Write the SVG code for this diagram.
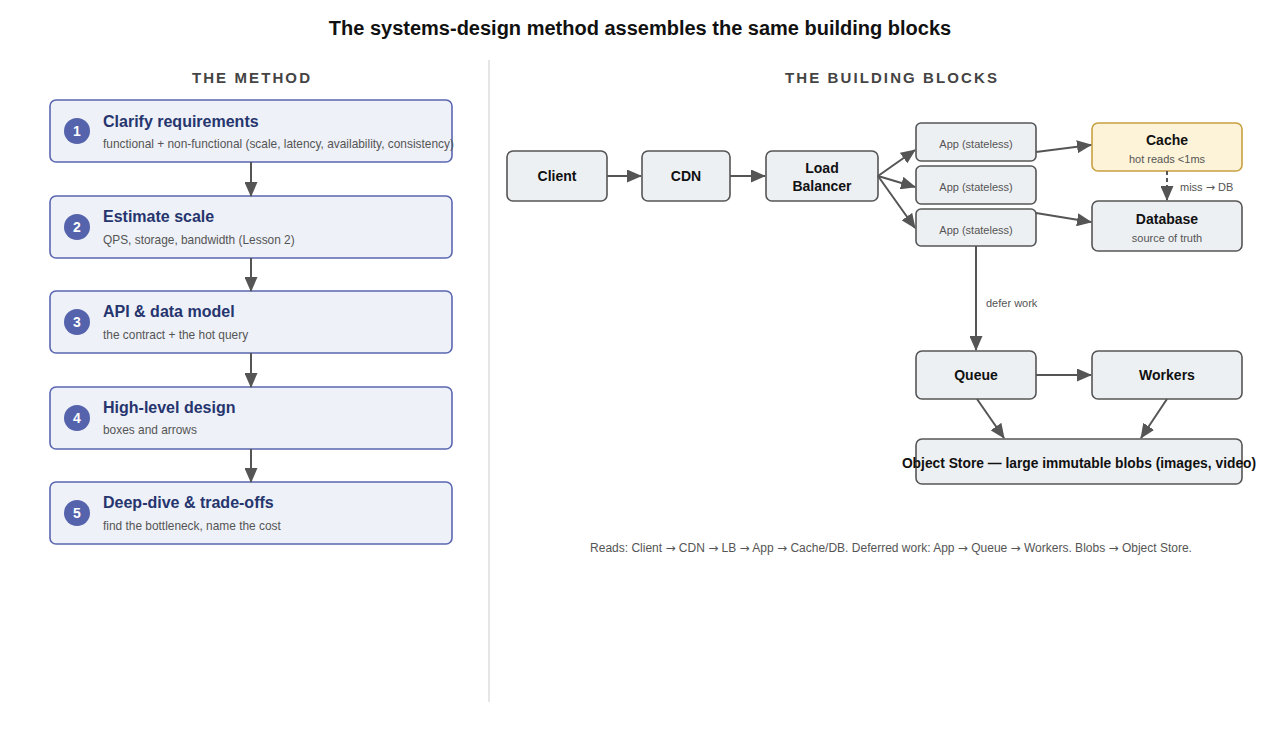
<svg xmlns="http://www.w3.org/2000/svg" width="1280" height="753" viewBox="0 0 1280 753">
<defs>
<marker id="ah" markerUnits="userSpaceOnUse" markerWidth="15" markerHeight="13" refX="14" refY="6.5" orient="auto">
<path d="M0,0 L15,6.5 L0,13 Z" fill="#555"/>
</marker>
<style>
text{font-family:"Liberation Sans",Arial,sans-serif}
.title{font-size:20px;font-weight:bold;fill:#111}
.hdr{font-size:15px;font-weight:bold;fill:#444;letter-spacing:2.1px}
.step rect{fill:#eef1f8;stroke:#5a67b0;stroke-width:1.6}
.step circle{fill:#5463ab}
.num{font-size:14px;font-weight:bold;fill:#fff}
.st{font-size:16px;font-weight:bold;fill:#26356e}
.ss{font-size:11.9px;fill:#555}
.blk{fill:#edf0f3;stroke:#555;stroke-width:1.6}
.bt{font-size:14px;font-weight:bold;fill:#111}
.at{font-size:11px;fill:#555}
.lbl{font-size:11px;fill:#555}
.foot{font-size:12px;fill:#555}
.ar{font-family:"DejaVu Sans",sans-serif}
.conn line{stroke:#555;stroke-width:2;marker-end:url(#ah)}
</style>
</defs>
<rect width="1280" height="753" fill="#fff"/>
<text class="title" x="640" y="35" text-anchor="middle">The systems-design method assembles the same building blocks</text>
<text class="hdr" x="252" y="83" text-anchor="middle">THE METHOD</text>
<text class="hdr" x="892" y="83" text-anchor="middle">THE BUILDING BLOCKS</text>
<line x1="489" y1="60" x2="489" y2="702" stroke="#ccc" stroke-width="1"/>

<g id="step1" class="step"><rect x="50" y="100" width="402" height="62" rx="6"/><circle cx="77" cy="131" r="13"/><text class="num" x="77" y="136" text-anchor="middle">1</text><text class="st" x="103" y="127">Clarify requirements</text><text class="ss" x="103" y="148">functional + non-functional (scale, latency, availability, consistency)</text></g>
<g id="step2" class="step"><rect x="50" y="196" width="402" height="62" rx="6"/><circle cx="77" cy="227" r="13"/><text class="num" x="77" y="232" text-anchor="middle">2</text><text class="st" x="103" y="222">Estimate scale</text><text class="ss" x="103" y="244">QPS, storage, bandwidth (Lesson 2)</text></g>
<g id="step3" class="step"><rect x="50" y="291" width="402" height="62" rx="6"/><circle cx="77" cy="322" r="13"/><text class="num" x="77" y="327" text-anchor="middle">3</text><text class="st" x="103" y="317">API &amp; data model</text><text class="ss" x="103" y="339">the contract + the hot query</text></g>
<g id="step4" class="step"><rect x="50" y="387" width="402" height="62" rx="6"/><circle cx="77" cy="418" r="13"/><text class="num" x="77" y="423" text-anchor="middle">4</text><text class="st" x="103" y="413">High-level design</text><text class="ss" x="103" y="434">boxes and arrows</text></g>
<g id="step5" class="step"><rect x="50" y="482" width="402" height="62" rx="6"/><circle cx="77" cy="513" r="13"/><text class="num" x="77" y="518" text-anchor="middle">5</text><text class="st" x="103" y="508">Deep-dive &amp; trade-offs</text><text class="ss" x="103" y="530">find the bottleneck, name the cost</text></g>

<g id="client"><rect class="blk" x="507" y="151" width="100" height="50" rx="6"/><text class="bt" x="557" y="181" text-anchor="middle">Client</text></g>
<g id="cdn"><rect class="blk" x="642" y="151" width="88" height="50" rx="6"/><text class="bt" x="686" y="181" text-anchor="middle">CDN</text></g>
<g id="lb"><rect class="blk" x="766" y="151" width="112" height="50" rx="6"/><text class="bt" x="822" y="173" text-anchor="middle">Load</text><text class="bt" x="822" y="191" text-anchor="middle">Balancer</text></g>
<g id="app1"><rect class="blk" x="916" y="123" width="120" height="38" rx="5"/><text class="at" x="976" y="148" text-anchor="middle">App (stateless)</text></g>
<g id="app2"><rect class="blk" x="916" y="166" width="120" height="38" rx="5"/><text class="at" x="976" y="191" text-anchor="middle">App (stateless)</text></g>
<g id="app3"><rect class="blk" x="916" y="209" width="120" height="37" rx="5"/><text class="at" x="976" y="234" text-anchor="middle">App (stateless)</text></g>
<g id="cache"><rect x="1092" y="123" width="150" height="48" rx="6" fill="#fdf3d8" stroke="#c9a040" stroke-width="1.6"/><text class="bt" x="1167" y="145" text-anchor="middle">Cache</text><text class="at" x="1167" y="163" text-anchor="middle">hot reads &lt;1ms</text></g>
<g id="database"><rect class="blk" x="1092" y="201" width="150" height="50" rx="6"/><text class="bt" x="1167" y="224" text-anchor="middle">Database</text><text class="at" x="1167" y="242" text-anchor="middle">source of truth</text></g>
<g id="queue"><rect class="blk" x="916" y="351" width="120" height="48" rx="6"/><text class="bt" x="976" y="380" text-anchor="middle">Queue</text></g>
<g id="workers"><rect class="blk" x="1092" y="351" width="150" height="48" rx="6"/><text class="bt" x="1167" y="380" text-anchor="middle">Workers</text></g>
<g id="objectstore"><rect class="blk" x="916" y="439" width="326" height="45" rx="6"/><text class="bt" x="1079" y="468" text-anchor="middle" style="font-size:13.8px">Object Store — large immutable blobs (images, video)</text></g>

<g id="connectors" class="conn">
<line x1="251" y1="162" x2="251" y2="196"/>
<line x1="251" y1="258" x2="251" y2="291"/>
<line x1="251" y1="353" x2="251" y2="387"/>
<line x1="251" y1="449" x2="251" y2="482"/>
<line x1="607" y1="176" x2="641" y2="176"/>
<line x1="730" y1="176" x2="765" y2="176"/>
<line x1="878" y1="176" x2="915" y2="150"/>
<line x1="878" y1="176" x2="915" y2="187"/>
<line x1="878" y1="176" x2="915" y2="228"/>
<line x1="1036" y1="152" x2="1091" y2="145"/>
<line x1="1036" y1="213" x2="1091" y2="222"/>
<line x1="1167" y1="171" x2="1167" y2="200" stroke-dasharray="4,3"/>
<line x1="976" y1="246" x2="976" y2="350"/>
<line x1="1036" y1="375" x2="1091" y2="375"/>
<line x1="977" y1="399" x2="1004" y2="438"/>
<line x1="1167" y1="399" x2="1141" y2="438"/>
</g>
<text class="lbl" x="1180" y="191">miss <tspan class="ar">→</tspan> DB</text>
<text class="lbl" x="986" y="307">defer work</text>
<text class="foot" x="891" y="552" text-anchor="middle">Reads: Client <tspan class="ar">→</tspan> CDN <tspan class="ar">→</tspan> LB <tspan class="ar">→</tspan> App <tspan class="ar">→</tspan> Cache/DB. Deferred work: App <tspan class="ar">→</tspan> Queue <tspan class="ar">→</tspan> Workers. Blobs <tspan class="ar">→</tspan> Object Store.</text>
</svg>
